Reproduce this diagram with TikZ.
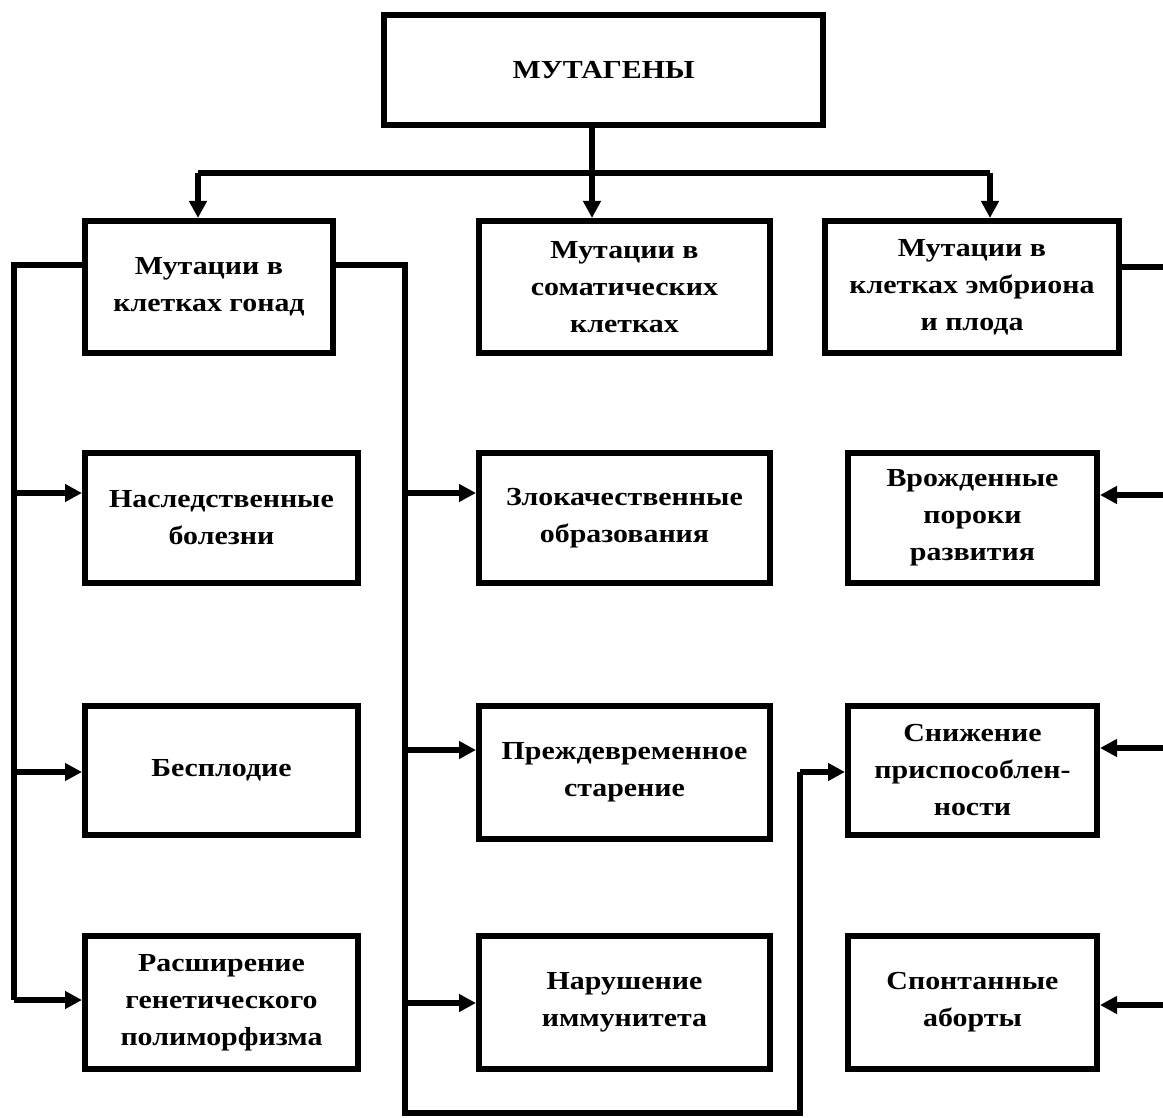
\documentclass[tikz,border=0pt]{standalone}
\usepackage{fontspec}
\setmainfont{Liberation Serif}[FakeStretch=1.15]
\usetikzlibrary{arrows.meta}
\begin{document}
\begin{tikzpicture}[x=1pt,y=-1pt,
  box/.style={draw,line width=6pt,align=center,inner sep=0pt,
    font=\fontsize{26}{37}\selectfont\bfseries},
  wire/.style={line width=6pt},
  arr/.style={line width=6pt,-{Triangle[length=17pt,width=17pt]}}]
\useasboundingbox (0,0) rectangle (1163,1118);
\node[box,minimum width=439pt,minimum height=110pt] (mut) at (603.5,70) {МУТАГЕНЫ};
% row 1
\node[box,minimum width=248pt,minimum height=132pt] (g1) at (209,287) {Мутации в\\клетках гонад};
\node[box,minimum width=291pt,minimum height=132pt] (s1) at (624.5,287) {Мутации в\\соматических\\клетках};
\node[box,minimum width=294pt,minimum height=132pt] (e1) at (972,287) {Мутации в\\клетках эмбриона\\и плода};
% row 2
\node[box,minimum width=273pt,minimum height=130pt] (g2) at (221.5,518) {Наследственные\\болезни};
\node[box,minimum width=291pt,minimum height=130pt] (s2) at (624.5,518) {Злокачественные\\образования};
\node[box,minimum width=249pt,minimum height=130pt] (e2) at (972.5,518) {Врожденные\\пороки\\развития};
% row 3
\node[box,minimum width=273pt,minimum height=129pt] (g3) at (221.5,770.5) {Бесплодие};
\node[box,minimum width=291pt,minimum height=133pt] (s3) at (624.5,772) {Преждевременное\\старение};
\node[box,minimum width=249pt,minimum height=129pt] (e3) at (972.5,770.5) {Снижение\\приспособлен-\\ности};
% row 4
\node[box,minimum width=273pt,minimum height=133pt] (g4) at (221.5,1002.5) {Расширение\\генетического\\полиморфизма};
\node[box,minimum width=291pt,minimum height=133pt] (s4) at (624.5,1002.5) {Нарушение\\иммунитета};
\node[box,minimum width=249pt,minimum height=133pt] (e4) at (972.5,1002.5) {Спонтанные\\аборты};
% top distribution
\coordinate (j) at (592,173);
\coordinate (jl) at (198,173);
\coordinate (jr) at (990,173);
\draw[wire] (mut.south -| j) -- (j);
\draw[wire] (jl) -- (jr);
\draw[arr] (jl) -- (jl |- g1.north);
\draw[arr] (j) -- (j |- s1.north);
\draw[arr] (jr) -- (jr |- e1.north);
% left rail
\coordinate (la) at (14,265);
\coordinate (lb) at (14,1000);
\draw[wire] (g1.west |- la) -- (la) -- (lb);
\draw[arr] (14,493) -- (g2.west |- 14,493);
\draw[arr] (14,772) -- (g3.west |- 14,772);
\draw[arr] (lb) -- (g4.west |- lb);
% middle rail
\coordinate (ra) at (405,265);
\coordinate (rb) at (405,1113);
\coordinate (rc) at (800,1113);
\coordinate (rd) at (800,772);
\draw[wire] (g1.east |- ra) -- (ra) -- (rb) -- (rc) -- (rd);
\draw[arr] (rd) -- (e3.west |- rd);
\draw[arr] (405,493) -- (s2.west |- 405,493);
\draw[arr] (405,750) -- (s3.west |- 405,750);
\draw[arr] (405,1003) -- (s4.west |- 405,1003);
% right rail
\coordinate (ea) at (1163,267);
\draw[wire] (e1.east |- ea) -- (ea);
\coordinate (eb) at (1163,495);
\coordinate (ec) at (1163,748);
\coordinate (ed) at (1163,1005);
\draw[arr] (eb) -- (e2.east |- eb);
\draw[arr] (ec) -- (e3.east |- ec);
\draw[arr] (ed) -- (e4.east |- ed);
\end{tikzpicture}
\end{document}
